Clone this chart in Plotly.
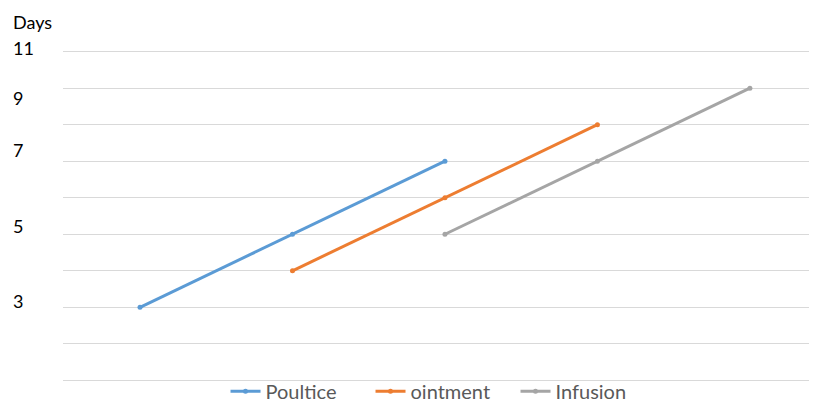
import plotly.graph_objects as go

# Data
poultice_x = [1, 2, 3]
poultice_y = [3, 5, 7]
ointment_x = [2, 3, 4]
ointment_y = [4, 6, 8]
infusion_x = [3, 4, 5]
infusion_y = [5, 7, 9]

series_names = ["Poultice", "ointment", "Infusion"]
series_colors = ["#5B9BD5", "#ED7D31", "#A5A5A5"]

axis_title = "Days"
tick_labels = ["11", "9", "7", "5", "3"]

# label placement (paper fraction of plot height)
title_pos = 1.076
tick_label_pos = [0.9997, 0.8505, 0.6969, 0.4702, 0.2464]

fig = go.Figure()
for name, xs, ys, col in zip(series_names,
                             [poultice_x, ointment_x, infusion_x],
                             [poultice_y, ointment_y, infusion_y],
                             series_colors):
    fig.add_trace(go.Scatter(
        x=xs, y=ys, name=name, mode="lines+markers",
        line=dict(color=col, width=3),
        marker=dict(color=col, size=5),
    ))

font_family = "Lato"
annotations = [dict(text=axis_title, xref="paper", yref="paper", x=-0.069, y=title_pos,
                    xanchor="left", yanchor="middle", showarrow=False,
                    font=dict(family=font_family, size=18, color="#000000"))]
for lab, yv in zip(tick_labels, tick_label_pos):
    annotations.append(dict(text=lab, xref="paper", yref="paper", x=-0.069, y=yv,
                            xanchor="left", yanchor="middle", showarrow=False,
                            font=dict(family=font_family, size=18, color="#000000")))

# The page body has an 8px default margin, so the figure is sized to fit.
fig.update_layout(
    width=809, height=395,
    margin=dict(l=55, r=0, t=40.4, b=19.4, autoexpand=False),
    paper_bgcolor="white", plot_bgcolor="white",
    showlegend=True,
    legend=dict(orientation="h", x=0.504, xanchor="center",
                yref="container", y=0.03, yanchor="middle",
                bgcolor="rgba(0,0,0,0)",
                font=dict(family=font_family, size=20, color="#595959"),
                entrywidth=100, tracegroupgap=0),
    xaxis=dict(range=[0.495, 5.44], showgrid=False, zeroline=False,
               showticklabels=False, showline=False, ticks=""),
    yaxis=dict(range=[0.9, 10.1], dtick=1, tick0=0, showgrid=True, gridcolor="#D9D9D9",
               gridwidth=1, zeroline=False, showticklabels=False, showline=False,
               ticks=""),
    annotations=annotations,
)

fig.write_html("out.html")
